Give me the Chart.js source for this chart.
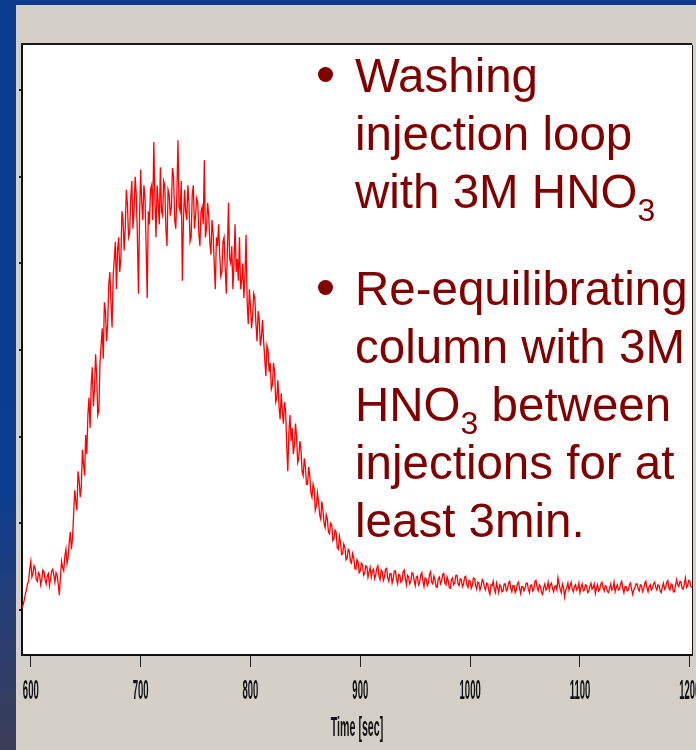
<!DOCTYPE html>
<html>
<head>
<meta charset="utf-8">
<script src="https://cdn.jsdelivr.net/npm/chart.js@4"></script>
<style>
  html, body { margin: 0; padding: 0; }
  body {
    width: 696px; height: 750px; position: relative; overflow: hidden;
    background: linear-gradient(to bottom, #0b3b8e 0%, #0c3d8f 65%, #2a3e6e 85%, #3a3d56 100%);
  }
  #panel { position: absolute; left: 16px; top: 5px; right: 0; bottom: 0; background: #d4d0c8; }
  #grafica { position: absolute; left: 0; top: 0; }
  .bullet { position: absolute; left: 355px; color: #800000; font-family: "Liberation Sans", Arial, sans-serif;
            font-size: 47.5px; line-height: 58px; white-space: nowrap; }
  .bullet sub { font-size: 32px; line-height: 0; vertical-align: -13px; }
  .dot { position: absolute; width: 15px; height: 15px; border-radius: 50%; background: #800000; }
</style>
</head>
<body>
<div id="panel"></div>
<canvas id="grafica" width="696" height="750"></canvas>

<div class="dot" style="left:318px; top:67px;"></div>
<div class="bullet" style="top:47px;">Washing<br>injection loop<br>with 3M HNO<sub>3</sub></div>

<div class="dot" style="left:318px; top:280px;"></div>
<div class="bullet" style="top:260px;">Re-equilibrating<br>column with 3M<br>HNO<sub>3</sub> between<br>injections for at<br>least 3min.</div>

<script>
// 游댝 Datos (una muestra por segundo, desde 592 s)
const tInicio = 592;
const tPaso = 1;
const senal = [
  20, 60, 110, 180, 230, 300, 330, 470, 560, 380, 420, 510, 480, 350, 330, 430, 410, 290, 350, 460,                  // 592
  440, 350, 300, 390, 420, 280, 360, 450, 470, 400, 320, 430, 400, 300, 170, 380, 560, 490, 450, 620,                // 612
  700, 540, 610, 780, 900, 700, 820, 1100, 1380, 1250, 1150, 1600, 1500, 1300, 1420, 1850, 1680, 1550, 2020, 1800,   // 632
  2250, 2450, 2100, 2600, 2800, 2350, 2550, 2950, 2700, 2250, 2300, 2850, 3050, 3250, 2900, 3550, 3450, 3100, 3300, 3750, // 652
  3900, 3550, 3260, 3850, 4050, 4250, 3700, 4150, 4300, 3900, 4050, 4600, 4500, 4150, 4400, 4850, 4680, 4300, 4350, 4750, // 672
  4950, 4400, 4600, 5000, 4800, 4350, 3650, 4500, 5080, 4700, 4500, 4900, 4750, 4200, 3600, 4600, 4450, 4850, 4900, 4500, // 692
  5400, 4750, 4300, 4900, 4700, 4450, 5110, 4600, 4550, 4950, 4900, 4400, 4200, 4850, 4800, 4550, 4650, 5100, 5000, 4500, // 712
  4400, 4800, 5420, 4650, 4600, 4950, 3800, 4500, 4850, 4600, 4500, 4900, 4700, 4250, 4300, 4800, 4900, 4400, 4550, 4750, // 732
  4700, 4350, 4200, 4600, 4650, 4450, 5190, 4300, 4400, 4700, 4550, 4250, 4100, 4500, 4350, 4000, 3700, 4300, 4200, 4450, // 752
  4100, 3850, 3900, 4250, 4300, 3950, 3650, 4150, 4700, 4050, 4000, 4200, 3700, 4000, 4450, 3900, 4050, 3800, 4300, 3700, // 772
  3800, 4000, 3600, 3850, 4330, 3550, 3300, 3700, 3500, 3250, 3400, 3650, 3600, 3300, 3100, 3450, 3350, 3050, 3150, 3350, // 792
  3100, 2900, 2700, 3050, 3000, 2750, 2850, 2550, 2600, 2850, 2750, 2400, 2450, 2650, 2350, 2200, 2500, 2300, 2150, 2400, // 812
  2300, 1900, 1600, 2050, 2250, 1950, 2100, 1800, 1900, 2150, 2000, 1700, 1750, 1950, 1850, 1600, 1550, 1750, 1650, 1450, // 832
  1450, 1650, 1550, 1350, 1300, 1450, 1400, 1150, 1200, 1350, 1250, 1100, 1050, 1250, 1150, 1000, 950, 1100, 1050, 900,   // 852
  880, 1000, 980, 800, 820, 920, 900, 720, 700, 850, 780, 640, 650, 760, 720, 580, 600, 700, 680, 560,               // 872
  540, 650, 600, 480, 470, 580, 560, 430, 450, 540, 520, 400, 420, 510, 500, 380, 440, 490, 380, 450,                // 892
  470, 360, 400, 480, 510, 390, 350, 460, 440, 340, 380, 470, 480, 370, 330, 420, 420, 310, 360, 450,                // 912
  450, 350, 300, 410, 400, 320, 340, 440, 460, 360, 290, 400, 380, 300, 330, 430, 420, 340, 280, 380,                // 932
  390, 290, 320, 400, 430, 330, 270, 370, 360, 280, 310, 410, 440, 320, 300, 390, 350, 270, 260, 360,                // 952
  380, 300, 330, 410, 420, 310, 290, 380, 340, 260, 250, 350, 370, 290, 310, 400, 400, 300, 280, 360,                // 972
  350, 270, 300, 380, 390, 290, 260, 340, 330, 250, 280, 370, 360, 280, 240, 320, 310, 230, 270, 350,                // 992
  330, 260, 230, 310, 300, 220, 180, 290, 280, 330, 240, 200, 310, 260, 200, 290, 270, 210, 220, 300,                // 1012
  300, 220, 240, 310, 330, 250, 210, 280, 280, 200, 230, 300, 320, 250, 190, 270, 270, 220, 250, 310,                // 1032
  310, 240, 200, 280, 290, 220, 240, 330, 340, 260, 220, 290, 270, 200, 180, 260, 300, 230, 250, 320,                // 1052
  230, 290, 310, 250, 210, 270, 280, 230, 370, 300, 240, 200, 300, 260, 150, 230, 260, 310, 230, 280,                // 1072
  320, 240, 210, 270, 290, 230, 250, 310, 200, 260, 300, 220, 230, 290, 280, 200, 210, 270, 310, 240,                // 1092
  260, 300, 190, 250, 290, 220, 240, 300, 320, 260, 220, 280, 270, 210, 200, 250, 300, 230, 250, 320,                // 1112
  210, 260, 290, 230, 240, 300, 330, 250, 200, 270, 270, 220, 230, 290, 310, 240, 180, 230, 260, 300,                // 1132
  300, 240, 220, 290, 280, 210, 240, 310, 330, 250, 210, 270, 290, 230, 250, 300, 320, 260, 230, 290,                // 1152
  280, 220, 200, 270, 310, 240, 260, 320, 340, 250, 230, 300, 290, 210, 210, 280, 350, 290, 270, 330,                // 1172
  320, 250, 240, 300, 370, 260, 280, 340, 330, 270, 260                                                              // 1192
];
const marcasX = [600, 700, 800, 900, 1000, 1100, 1200];
const marcasY = [0, 1000, 2000, 3000, 4000, 5000, 6000];
const tituloX = "Time [sec]";

const puntos = senal.map((v, i) => ({ x: tInicio + i * tPaso, y: v }));

// Fondo blanco del area, marco y etiquetas estrechas del eje x
const marco = {
  id: "marco",
  beforeDraw(chart) {
    const { ctx, chartArea: a } = chart;
    ctx.save();
    ctx.fillStyle = "#ffffff";
    ctx.fillRect(a.left, a.top, a.right - a.left, a.bottom - a.top);
    ctx.restore();
  },
  afterDraw(chart) {
    const { ctx, chartArea: a } = chart;
    const xs = chart.scales.x;
    ctx.save();
    // borde superior y derecho
    ctx.strokeStyle = "#1a1a1a";
    ctx.lineWidth = 2;
    ctx.beginPath();
    ctx.moveTo(a.left - 1, a.top - 1);
    ctx.lineTo(a.right, a.top - 1);
    ctx.stroke();
    ctx.lineWidth = 1;
    ctx.beginPath();
    ctx.moveTo(a.right + 0.5, a.top);
    ctx.lineTo(a.right + 0.5, a.bottom);
    ctx.stroke();

    ctx.fillStyle = "#111111";
    ctx.font = 'bold 28px "Liberation Sans", Arial, sans-serif';
    ctx.textAlign = "center";
    ctx.textBaseline = "middle";
    xs.ticks.forEach(t => {
      const px = xs.getPixelForValue(t.value);
      ctx.save();
      ctx.translate(px, 691);
      ctx.scale(0.34, 1);
      ctx.fillText(String(t.value), 0, 0);
      ctx.restore();
    });
    ctx.save();
    ctx.translate((a.left + a.right) / 2, 728);
    ctx.scale(0.38, 1);
    ctx.fillText(tituloX, 0, 0);
    ctx.restore();
    ctx.restore();
  }
};

new Chart(document.getElementById("grafica").getContext("2d"), {
  type: "line",
  data: {
    datasets: [{
      data: puntos,
      borderColor: "#ff0000",
      borderWidth: 1.3,
      pointRadius: 0,
      tension: 0
    }]
  },
  options: {
    responsive: false,
    animation: false,
    layout: { padding: { left: 16, top: 45, right: 4, bottom: 0 } },
    plugins: { legend: { display: false }, tooltip: { enabled: false } },
    scales: {
      x: {
        type: "linear",
        min: 592,
        max: 1202,
        ticks: { display: false },
        afterBuildTicks: s => { s.ticks = marcasX.map(v => ({ value: v })); },
        grid: { drawOnChartArea: false, drawTicks: true, tickLength: 12, color: "#222" },
        border: { display: true, color: "#111", width: 2 },
        afterFit: s => { s.height = 95; }
      },
      y: {
        min: -520,
        max: 6520,
        ticks: { display: false },
        afterBuildTicks: s => { s.ticks = marcasY.map(v => ({ value: v })); },
        grid: { drawOnChartArea: false, drawTicks: true, tickLength: 3, color: "#222", lineWidth: 2 },
        border: { display: true, color: "#111", width: 2 },
        afterFit: s => { s.width = 6; }
      }
    }
  },
  plugins: [marco]
});
</script>
</body>
</html>
